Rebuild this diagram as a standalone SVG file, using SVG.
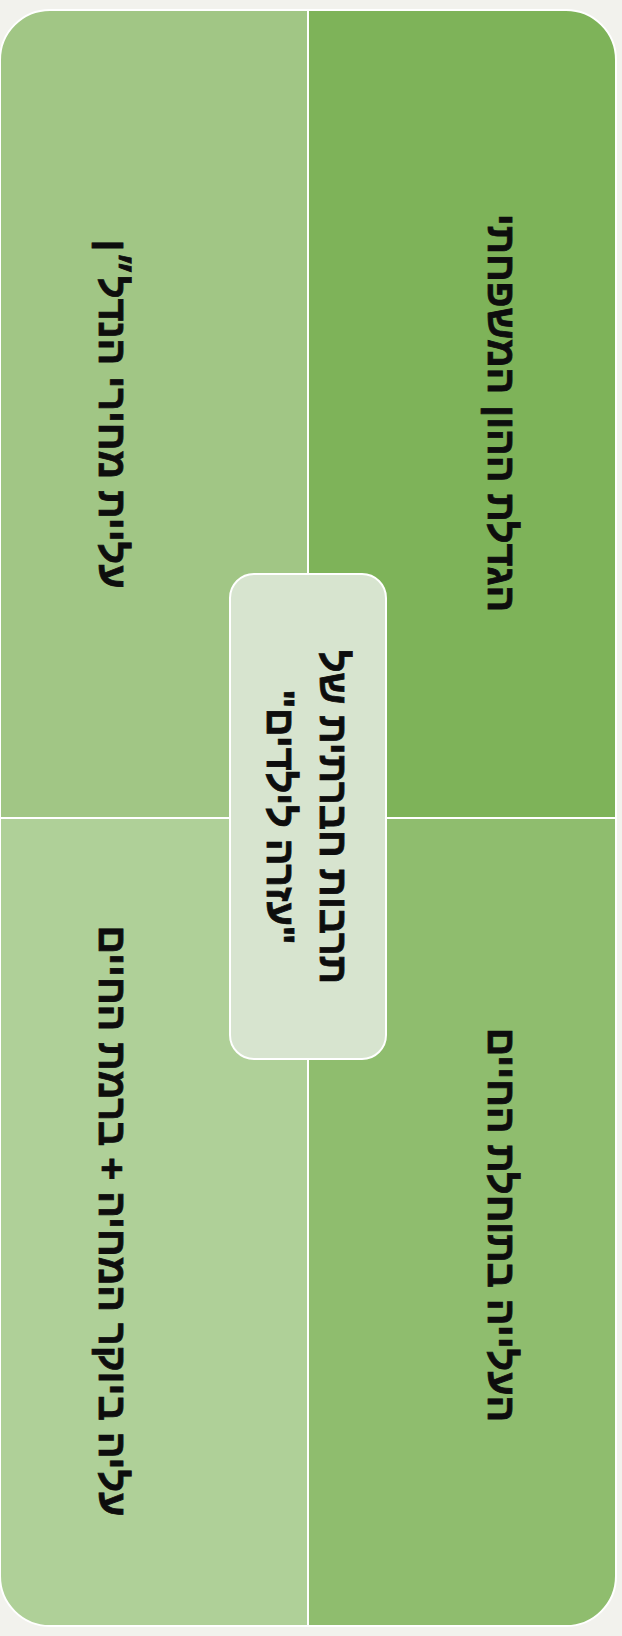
<svg xmlns="http://www.w3.org/2000/svg" width="622" height="1636" viewBox="0 0 622 1636">
  <style>
    .quad { stroke: #ffffff; stroke-width: 2; }
    .hub { fill: #d7e4cf; stroke: #ffffff; stroke-width: 2; }
    .lbl { font-family: "Liberation Sans", Arial, "DejaVu Sans", sans-serif; font-weight: bold; font-size: 39.5px; fill: #0d0d0d; stroke: #0d0d0d; stroke-width: 0.8px; text-anchor: middle; direction: rtl; }
  </style>
  <rect x="0" y="0" width="622" height="1636" fill="#f2f2ed"/>

  <!-- four quadrants, each with one rounded outer corner -->
  <g id="quad-top-left">
    <path class="quad" fill="#a1c685" d="M0,818 V60 A50,50 0 0 1 50,10 H308 V818 Z"/>
    <text class="lbl" transform="translate(99,414) rotate(90)">עליית מחירי הנדל״ן</text>
  </g>
  <g id="quad-top-right">
    <path class="quad" fill="#7eb359" d="M308,10 H566 A50,50 0 0 1 616,60 V818 H308 Z"/>
    <text class="lbl" transform="translate(488,413) rotate(90)">הגדלת ההון המשפחתי</text>
  </g>
  <g id="quad-bottom-right">
    <path class="quad" fill="#8fbd6e" d="M308,818 H616 V1576 A50,50 0 0 1 566,1626 H308 Z"/>
    <text class="lbl" transform="translate(488,1225) rotate(90)">העלייה בתוחלת החיים</text>
  </g>
  <g id="quad-bottom-left">
    <path class="quad" fill="#afd098" d="M0,818 H308 V1626 H50 A50,50 0 0 1 0,1576 Z"/>
    <text class="lbl" transform="translate(99,1221) rotate(90)">עליה ביוקר המחיה + ברמת החיים</text>
  </g>

  <!-- central hub -->
  <g id="hub">
    <rect class="hub" x="230" y="574" width="156" height="485" rx="24" ry="24"/>
    <text class="lbl" transform="translate(320,817) rotate(90)">תרבות חברתית של</text>
    <text class="lbl" transform="translate(267,817) rotate(90)">"עזרה לילדים"</text>
  </g>

  <g id="connectors"/>
</svg>
